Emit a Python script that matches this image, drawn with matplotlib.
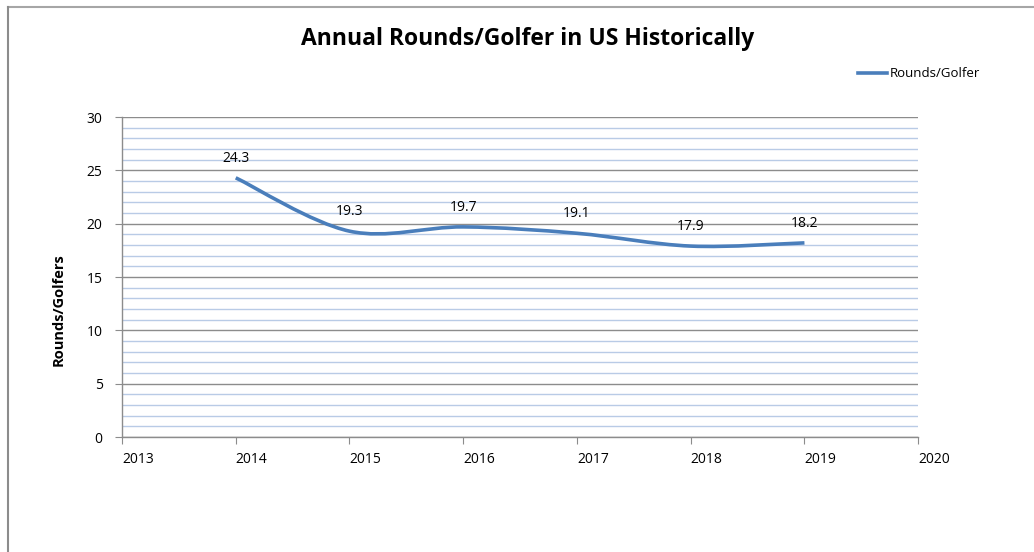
import matplotlib.pyplot as plt
from matplotlib.path import Path
from matplotlib.patches import PathPatch
from matplotlib.lines import Line2D
from matplotlib.ticker import MultipleLocator
import numpy as np

years = [2014, 2015, 2016, 2017, 2018, 2019]
rounds = [24.3, 19.3, 19.7, 19.1, 17.9, 18.2]
x_ticks = list(range(2013, 2021))

plt.rcParams['font.family'] = ['Open Sans', 'DejaVu Sans']

BLUE = '#4a7ebb'
GRID_MAJOR = '#8c8c8c'
GRID_MINOR = '#b9cbe6'


def smooth_path(xs, ys, t=1 / 6):
    # excel-style smoothed line: bezier segments through each point
    xs = np.asarray(xs, float)
    ys = np.asarray(ys, float)
    n = len(xs)
    verts = [(xs[0], ys[0])]
    codes = [Path.MOVETO]
    for i in range(n - 1):
        p0 = i - 1 if i > 0 else i
        p3 = i + 2 if i + 2 < n else i + 1
        c1 = (xs[i] + (xs[i + 1] - xs[p0]) * t, ys[i] + (ys[i + 1] - ys[p0]) * t)
        c2 = (xs[i + 1] - (xs[p3] - xs[i]) * t, ys[i + 1] - (ys[p3] - ys[i]) * t)
        verts += [c1, c2, (xs[i + 1], ys[i + 1])]
        codes += [Path.CURVE4] * 3
    return Path(verts, codes)


fig = plt.figure(figsize=(10.34, 5.52), dpi=100)
ax = fig.add_axes([0.118, 0.2083, 0.770, 0.5797])

ax.set_xlim(2013, 2020)
ax.set_ylim(0, 30)
ax.set_xticks(x_ticks)
ax.yaxis.set_major_locator(MultipleLocator(5))
ax.yaxis.set_minor_locator(MultipleLocator(1))
ax.grid(True, axis='y', which='major', color=GRID_MAJOR, lw=1.0)
ax.grid(True, axis='y', which='minor', color=GRID_MINOR, lw=1.0)
ax.set_axisbelow(True)

for s in ['top', 'right']:
    ax.spines[s].set_visible(False)
for s in ['left', 'bottom']:
    ax.spines[s].set_color(GRID_MAJOR)
    ax.spines[s].set_linewidth(1.0)

ax.tick_params(axis='both', which='major', length=5, color=GRID_MAJOR,
               labelsize=10, pad=6)
ax.tick_params(axis='y', which='minor', length=0)
ax.tick_params(axis='y', pad=9)
for lbl in ax.get_xticklabels():
    lbl.set_ha('left')

patch = PathPatch(smooth_path(years, rounds), facecolor='none', edgecolor=BLUE,
                  lw=2.6, capstyle='butt', zorder=3)
ax.add_patch(patch)

for xv, yv in zip(years, rounds):
    ax.annotate(f'{yv}', (xv, yv), xytext=(0, 8.5), textcoords='offset points',
                ha='center', va='bottom', fontsize=10, zorder=4)

ax.set_ylabel('Rounds/Golfers', fontsize=10.5, fontweight='bold')
ax.yaxis.set_label_coords(-0.071, 0.397)

fig.text(0.51, 0.93, 'Annual Rounds/Golfer in US Historically', ha='center',
         va='center', fontsize=16.5, fontweight='bold')

# legend
handle = Line2D([], [], color=BLUE, lw=2.6)
fig.legend([handle], ['Rounds/Golfer'], loc='center left',
           bbox_to_anchor=(0.818, 0.866), frameon=False, fontsize=9.5,
           handlelength=2.2, handletextpad=0.2)

# chart frame edges
fig.add_artist(Line2D([8 / 1034, 1], [1 - 6.5 / 552, 1 - 6.5 / 552],
                      color='#a6a6a6', lw=1.5, transform=fig.transFigure))
fig.add_artist(Line2D([8 / 1034, 8 / 1034], [0, 1 - 6.5 / 552],
                      color='#8c8c8c', lw=1.5, transform=fig.transFigure))

fig.savefig('out.png', dpi=100)
